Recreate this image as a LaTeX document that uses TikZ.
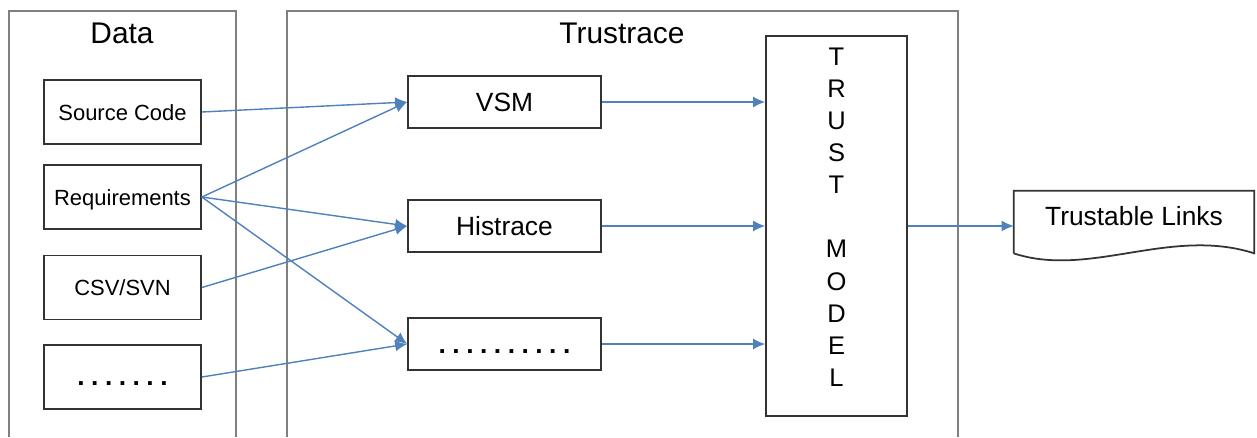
\documentclass[tikz,border=0pt]{standalone}
\usepackage{fontspec}
\setmainfont{Liberation Sans}
\usepackage{xcolor}
\usetikzlibrary{arrows.meta}
\usetikzlibrary{positioning}
\definecolor{linkblue}{RGB}{79,129,189}
\definecolor{framegray}{RGB}{128,128,128}
\newcommand{\dotrow}[1]{\bfseries\foreach \i in {2,...,#1}{.\kern1.3mm}.}
\tikzset{
	panel/.style={draw=framegray, line width=1.3pt},
	title/.style={font=\fontsize{17}{20}\selectfont},
	databox/.style={draw=black!80, line width=1pt, minimum width=3.14cm, minimum height=1.28cm, text height=3.2mm, text depth=0pt, font=\fontsize{12.5}{15}\selectfont},
	methodbox/.style={draw=black!80, line width=1pt, minimum width=3.86cm, minimum height=1.04cm, text height=3.8mm, text depth=0pt, font=\fontsize{15}{18}\selectfont},
	flow/.style={-{Latex[length=2.4mm,width=2.2mm]}, draw=linkblue, line width=0.8pt}
}
\begin{document}
\begin{tikzpicture}[x=0.02cm, y=-0.02cm]
	   	\useasboundingbox (0,0) rectangle (1257,437);
	   	%DATA Rahmen
	   	\draw[panel] (9,437) -- (9,11) -- (236,11) -- (236,437);
	   	\node (datatitle) at (122,33) [title]{Data};
	   	%
	   	%TRUSTRACE Rahmen
	   	\draw[panel] (287,437) -- (287,11) -- (958,11) -- (958,437);
	   	\node (trustitle) at (622,33) [title]{Trustrace};
	   	%
	   	%Source Code
	   	\node (src) at (122.5,112) [databox]{Source Code};
	   	%
	   	%Requirements
	   	\node (req) at (122.5,197) [databox]{Requirements};
	   	%
	   	%CSV/SVN
	   	\node (csv) at (122.5,287.5) [databox]{CSV/SVN};
	   	%
	   	%weitere Daten
	   	\node (moredata) at (122.5,377) [databox, font=\fontsize{15}{16}\selectfont]{\dotrow{7}};
	   	%
	   	%%%%%%%%%%%%%%%%%%%%%%%%%%%%%%%%%%%%%%
	   	%VSM
	   	\node (vsm) at (504.5,102) [methodbox]{VSM};
	   	%
	   	%Histrace
	   	\node (his) at (504.5,226) [methodbox]{Histrace};
	   	%
	   	%weitere Methoden
	   	\node (moremeth) at (504.5,344) [methodbox]{\dotrow{10}};
	   	%
	   	%Trust Model
	   	\node (tm) at (836.5,226) [draw=black!80, line width=1pt, minimum width=2.82cm, minimum height=7.6cm]{};
	   	\node (tmtext) [below=0.24cm of tm.north, inner sep=0pt, align=center, font=\fontsize{14.5}{18.3}\selectfont]{T\\R\\U\\S\\T\\ \\M\\O\\D\\E\\L};
	   	%
	   	%Trustable Links
	   	\node (links) at (1134,222) [minimum width=4.8cm, minimum height=1.24cm, text height=3.8mm, text depth=2.6mm, font=\fontsize{15}{18}\selectfont]{Trustable Links};
	   	\draw[draw=black!80, line width=1pt] (links.south west) -- (links.north west) -- (links.north east) -- (links.south east)
	   	.. controls +(-84,-27) and +(76,25) .. (links.south west);
	   	%
	   	%%%%%%%%%%%%%%%%%%%%%%%%%%%%%%%%%%%%%%
	   	%Pfeile Daten - Methoden
	   	\draw[flow] (src.east) -- (vsm.west);
	   	\draw[flow] (req.east) -- (vsm.west);
	   	\draw[flow] (req.east) -- (his.west);
	   	\draw[flow] (req.east) -- (moremeth.west);
	   	\draw[flow] (csv.east) -- (his.west);
	   	\draw[flow] (moredata.east) -- (moremeth.west);
	   	%
	   	%Pfeile Methoden - Trust Model
	   	\foreach \m in {vsm, his, moremeth}
	   		\draw[flow] (\m.east) -- (\m.east -| tm.west);
	   	%
	   	%Pfeil Trust Model - Links
	   	\draw[flow] (tm.east) -- (tm.east -| links.west);
\end{tikzpicture}
\end{document}
